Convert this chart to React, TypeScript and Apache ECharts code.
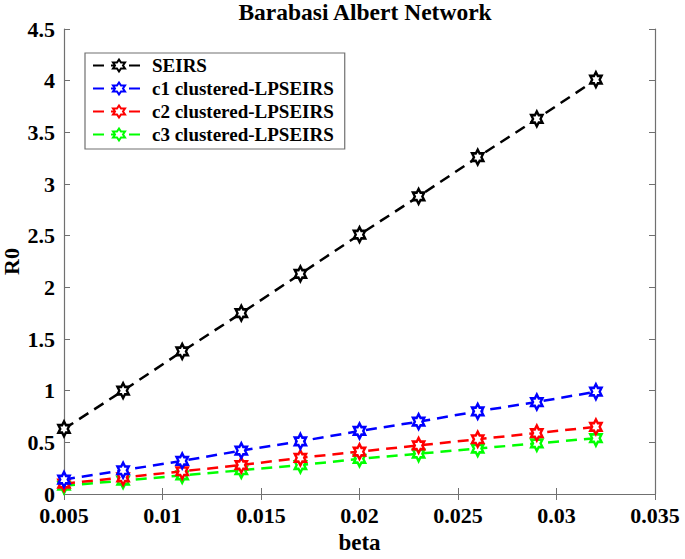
import React, { useEffect, useRef } from "react";
import * as echarts from "echarts";

const betaValues = [0.005, 0.008, 0.011, 0.014, 0.017, 0.02, 0.023, 0.026, 0.029, 0.032];
const seirs = [0.63, 1.0, 1.38, 1.75, 2.13, 2.51, 2.88, 3.26, 3.63, 4.01];
const c1 = [0.14, 0.23, 0.32, 0.42, 0.51, 0.61, 0.7, 0.8, 0.89, 0.99];
const c2 = [0.1, 0.16, 0.22, 0.28, 0.35, 0.41, 0.47, 0.53, 0.59, 0.65];
const c3 = [0.08, 0.13, 0.18, 0.23, 0.28, 0.34, 0.39, 0.44, 0.49, 0.54];
const seriesNames = ["SEIRS", "c1 clustered-LPSEIRS", "c2 clustered-LPSEIRS", "c3 clustered-LPSEIRS"];
const seriesColors = ["#000000", "#0000ff", "#ff0000", "#00ff00"];
const seriesData = [seirs, c1, c2, c3];

const HEX =
  "path://M0,-100L28.9,-50L86.6,-50L57.7,0L86.6,50L28.9,50L0,100L-28.9,50L-86.6,50L-57.7,0L-86.6,-50L-28.9,-50Z";

const FONT = "'Liberation Serif', 'Times New Roman', serif";

export default function App() {
  const ref = useRef<HTMLDivElement>(null);
  useEffect(() => {
    if (!ref.current) return;
    const chart = echarts.init(ref.current, undefined, { renderer: "svg" });
    const axisLine = { show: true, lineStyle: { color: "#707070", width: 1.2 } };
    const axisTick = { show: true, inside: true, length: 6, lineStyle: { color: "#707070" } };
    const fmt = (v: number) => String(+v.toFixed(3));
    chart.setOption({
      animation: false,
      backgroundColor: "#ffffff",
      title: {
        text: "Barabasi Albert Network",
        left: 360,
        textAlign: "center",
        top: -5,
        textStyle: { fontFamily: FONT, fontWeight: "bold", fontSize: 23.5, color: "#000" },
      },
      legend: {
        left: 85,
        top: 53,
        orient: "vertical",
        itemWidth: 52,
        itemHeight: 15,
        itemGap: 4,
        padding: [3, 11, 5, 7],
        borderColor: "#707070",
        borderWidth: 1.2,
        borderRadius: 0,
        backgroundColor: "#ffffff",
        textStyle: { fontFamily: FONT, fontWeight: "bold", fontSize: 19, color: "#000", padding: [0, 0, 0, 2] },
        data: seriesNames,
      },
      grid: { left: 64, right: 30, top: 29, bottom: 65, containLabel: false, outerBoundsMode: "none" },
      xAxis: [
        {
          type: "value",
          min: 0.005,
          max: 0.035,
          interval: 0.005,
          name: "beta",
          nameLocation: "middle",
          nameGap: 37,
          nameTextStyle: { fontFamily: FONT, fontWeight: "bold", fontSize: 23, color: "#000" },
          axisLine,
          axisTick,
          splitLine: { show: false },
          axisLabel: {
            formatter: fmt,
            fontFamily: FONT,
            fontWeight: "bold",
            fontSize: 22,
            lineHeight: 16,
            color: "#000",
            margin: 13,
          },
        },
        {
          type: "value",
          position: "top",
          min: 0.005,
          max: 0.035,
          interval: 0.005,
          axisLine,
          axisTick,
          splitLine: { show: false },
          axisLabel: { show: false },
        },
      ],
      yAxis: [
        {
          type: "value",
          min: 0,
          max: 4.5,
          interval: 0.5,
          name: "R0",
          nameLocation: "middle",
          nameGap: 42,
          nameMoveOverlap: false,
          nameRotate: 90,
          nameTextStyle: { fontFamily: FONT, fontWeight: "bold", fontSize: 22, color: "#000" },
          axisLine,
          axisTick,
          splitLine: { show: false },
          axisLabel: {
            formatter: fmt,
            fontFamily: FONT,
            fontWeight: "bold",
            fontSize: 22,
            lineHeight: 16,
            color: "#000",
            margin: 9,
          },
        },
        {
          type: "value",
          position: "right",
          min: 0,
          max: 4.5,
          interval: 0.5,
          axisLine,
          axisTick,
          splitLine: { show: false },
          axisLabel: { show: false },
        },
      ],
      series: seriesNames.map((name, i) => ({
        name,
        type: "line",
        data: betaValues.map((b, j) => [b, seriesData[i][j]]),
        symbol: HEX,
        symbolSize: [13, 15],
        symbolKeepAspect: true,
        showAllSymbol: true,
        lineStyle: { color: seriesColors[i], width: 2.5, type: [11, 7] },
        itemStyle: { color: "#ffffff", borderColor: seriesColors[i], borderWidth: 2.5 },
        z: 10 - i,
      })),
    });
    return () => chart.dispose();
  }, []);
  return <div ref={ref} style={{ width: 685, height: 559, position: "absolute", left: 0, top: 0 }} />;
}
